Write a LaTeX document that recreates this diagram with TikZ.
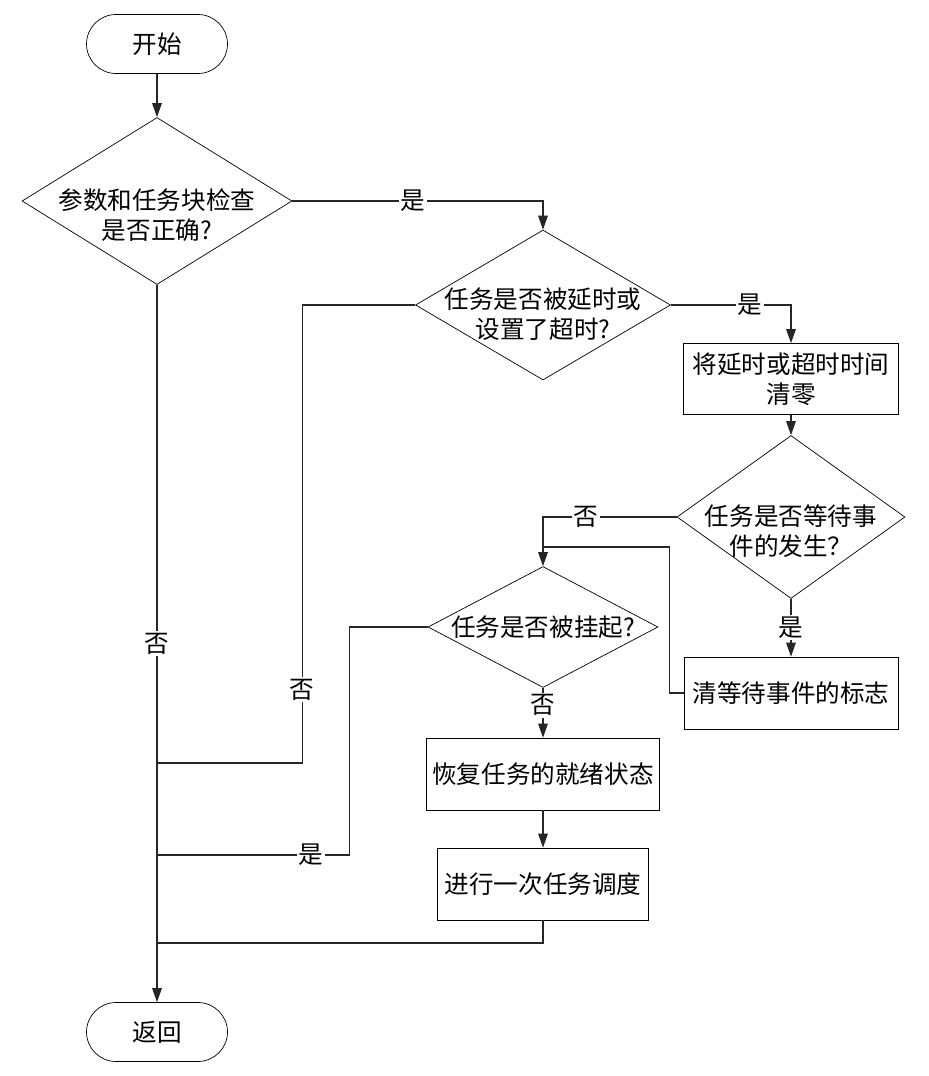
\documentclass[tikz,border=0pt]{standalone}
\usepackage{fontspec}
\setmainfont{Noto Sans CJK SC}
\usetikzlibrary{shapes.geometric,arrows.meta}

\begin{document}
\begin{tikzpicture}[x=0.02cm,y=-0.02cm,
  every node/.style={font=\fontsize{14}{17}\selectfont},
  term/.style={draw,rounded corners=0.59cm,minimum width=2.82cm,minimum height=1.18cm},
  proc/.style={draw,align=center,minimum height=1.44cm},
  decision/.style={draw,diamond,inner sep=0pt},
  yn/.style={fill=white,inner sep=1pt},
  line/.style={draw=black!85,line width=0.6pt},
  flow/.style={line,-{Triangle[length=8pt,width=5.5pt]}}]
\useasboundingbox (0,0) rectangle (929,1076);
% nodes
\node[term] (start) at (157,44) {开始};
\node[decision,minimum width=5.4cm,minimum height=3.34cm,
  label={[align=center,yshift=-0.28cm]center:参数和任务块检查\\是否正确?}] (d1) at (157,201) {};
\node[decision,minimum width=5.1cm,minimum height=3cm,
  label={[align=center,yshift=-0.18cm]center:任务是否被延时或\\设置了超时?}] (d2) at (543,305) {};
\node[proc,minimum width=4.3cm,minimum height=1.42cm] (b1) at (791,379) {将延时或超时时间\\清零};
\node[decision,minimum width=4.56cm,minimum height=3.26cm,
  label={[align=center,yshift=-0.28cm]center:任务是否等待事\\件的发生？}] (d3) at (791,517) {};
\node[proc,minimum width=4.28cm] (b2) at (791,693) {清等待事件的标志};
\node[decision,minimum width=4.6cm,minimum height=2.42cm,
  label={center:任务是否被挂起?}] (d4) at (543,627) {};
\node[proc,minimum width=4.5cm] (b3) at (543,774) {恢复任务的就绪状态};
\node[proc,minimum width=4.22cm] (b4) at (543,884) {进行一次任务调度};
\node[term] (stop) at (157,1032) {返回};
\coordinate (j1) at (543,547);
\coordinate (j2) at (157,763);
\coordinate (j3) at (157,855);
\coordinate (j4) at (157,943);
% connectors
\draw[flow] (start) -- (d1);
\draw[flow] (d1.east) -| node[yn,pos=0.24]{是} (d2.north);
\draw[flow] (d2.east) -| node[yn,pos=0.33]{是} (b1.north);
\draw[flow] (b1) -- (d3);
\draw[flow] (d3.west) -| node[yn,pos=0.34]{否} (d4.north);
\draw[flow] (d3) -- node[yn]{是} (b2);
\draw[line] (b2.west) -- ++(-14,0) |- (j1);
\draw[flow] (d4) -- node[yn,pos=0.35]{否} (b3);
\draw[flow] (b3) -- (b4);
\draw[line] (b4.south) |- (j4);
\draw[line] (d4.west) -- ++(-78,0) |- node[yn,pos=0.6]{是} (j3);
\draw[line] (d2.west) -- ++(-113,0) |- node[yn,pos=0.42]{否} (j2);
\draw[flow] (d1.south) -- node[yn]{否} (stop.north);
\end{tikzpicture}
\end{document}
